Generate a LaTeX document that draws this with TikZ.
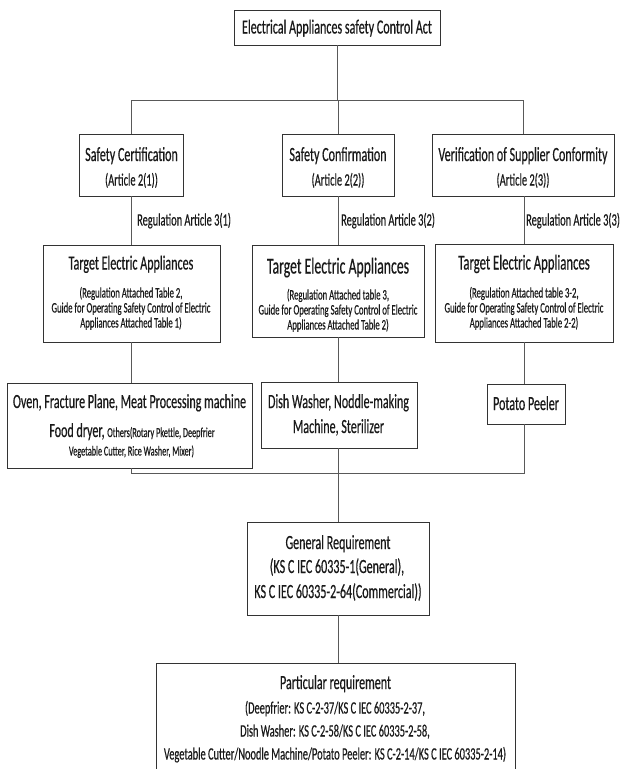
\documentclass[tikz,border=0pt]{standalone}
\usepackage{fontspec}
\setmainfont[FakeStretch=0.6, FakeBold=0.4]{Carlito}
\newcommand\szT{\fontsize{20.1}{23}\selectfont}
\newcommand\szM{\fontsize{17.3}{20}\selectfont}
\newcommand\szS{\fontsize{14.5}{17}\selectfont}
\newcommand\szX{\fontsize{13.7}{16}\selectfont}
\begin{document}
\begin{tikzpicture}[x=1pt,y=-1pt,
  box/.style={draw=black!80, line width=0.9pt, fill=white, inner sep=0pt},
  ln/.style={draw=black!65, line width=0.8pt},
  txt/.style={inner sep=0pt, anchor=base, text=black!90},
  lbl/.style={inner sep=0pt, anchor=base west, text=black!90}]
\useasboundingbox[fill=white] (0,0) rectangle (619,769);

% ---- boxes ----
\node[box, minimum width=206pt, minimum height=35pt] (top)   at (337,27.5) {};
\node[box, minimum width=104pt, minimum height=62pt] (sc)    at (131.5,165) {};
\node[box, minimum width=112pt, minimum height=62pt] (sconf) at (338,165) {};
\node[box, minimum width=182pt, minimum height=62pt] (vsc)   at (523,165) {};
\node[box, minimum width=177pt, minimum height=97pt] (t1)    at (131.5,293.5) {};
\node[box, minimum width=172pt, minimum height=92pt] (t2)    at (338,291) {};
\node[box, minimum width=178pt, minimum height=98pt] (t3)    at (524,293) {};
\node[box, minimum width=245pt, minimum height=85pt] (a)     at (129.5,425.5) {};
\node[box, minimum width=156pt, minimum height=66pt] (d)     at (339,415) {};
\node[box, minimum width=78pt,  minimum height=40pt] (p)     at (526,404) {};
\node[box, minimum width=182pt, minimum height=93pt] (g)     at (338,568.5) {};
\node[box, minimum width=359pt, minimum height=140pt] (pr)   at (335.5,733) {};

% ---- connectors ----
\coordinate (hub) at (337,100);
\coordinate (bus) at (338,473);
\draw[ln] (top.south) -- (top.south |- hub);
\draw[ln] (sc.north |- hub) -- (vsc.north |- hub);
\draw[ln] (sc.north |- hub) -- (sc.north);
\draw[ln] (sconf.north |- hub) -- (sconf.north);
\draw[ln] (vsc.north |- hub) -- (vsc.north);
\draw[ln] (sc.south) -- (sc.south |- t1.north);
\draw[ln] (sconf.south) -- (sconf.south |- t2.north);
\draw[ln] (t3.north |- vsc.south) -- (t3.north);
\draw[ln] (t1.south) -- (t1.south |- a.north);
\draw[ln] (t2.south) -- (t2.south |- d.north);
\draw[ln] (t3.south) -- (t3.south |- p.north);
\draw[ln] (t1.south |- a.south) -- (t1.south |- bus) -- (t3.south |- bus) -- (t3.south |- p.south);
\draw[ln] (g.north |- d.south) -- (g.north);
\draw[ln] (g.south) -- (g.south |- pr.north);

% ---- texts ----
\node[txt, font=\szT] (top-l1) at (337,33.5) {Electrical Appliances safety Control Act};

\node[txt, font=\szT] (sc-l1) at (131.5,161) {Safety Certification};
\node[txt, font=\szM] (sc-l2) at (131.5,185.5) {(Article 2(1))};
\node[txt, font=\szT] (sconf-l1) at (338,161) {Safety Confirmation};
\node[txt, font=\szM] (sconf-l2) at (338,185.5) {(Article 2(2))};
\node[txt, font=\szT] (vsc-l1) at (523,161) {Verification of Supplier Conformity};
\node[txt, font=\szM] (vsc-l2) at (523,185.5) {(Article 2(3))};

\node[lbl, font=\szM] (r1) at (137,225.5) {Regulation Article 3(1)};
\node[lbl, font=\szM] (r2) at (341,225.5) {Regulation Article 3(2)};
\node[lbl, font=\szM] (r3) at (526,225.5) {Regulation Article 3(3)};

\node[txt, font=\szT] (t1-l1) at (131,269.5) {Target Electric Appliances};
\node[txt, font=\szS] (t1-l2) at (131,297.5) {(Regulation Attached Table 2,};
\node[txt, font=\szS] (t1-l3) at (131,312.5) {Guide for Operating Safety Control of Electric};
\node[txt, font=\szS] (t1-l4) at (131,327.5) {Appliances Attached Table 1)};

\node[txt, font=\fontsize{22.9}{26}\selectfont] (t2-l1) at (338,273.5) {Target Electric Appliances};
\node[txt, font=\szS] (t2-l2) at (338,299.5) {(Regulation Attached table 3,};
\node[txt, font=\szS] (t2-l3) at (338,314.5) {Guide for Operating Safety Control of Electric};
\node[txt, font=\szS] (t2-l4) at (338,329.5) {Appliances Attached Table 2)};

\node[txt, font=\fontsize{21.2}{24}\selectfont] (t3-l1) at (524,269.5) {Target Electric Appliances};
\node[txt, font=\szS] (t3-l2) at (524,297.5) {(Regulation Attached table 3-2,};
\node[txt, font=\szS] (t3-l3) at (524,312.5) {Guide for Operating Safety Control of Electric};
\node[txt, font=\szS] (t3-l4) at (524,327.5) {Appliances Attached Table 2-2)};

\node[txt, font=\szT] (a-l1) at (129.5,408) {Oven, Fracture Plane, Meat Processing machine};
\node[txt, font=\szT] (a-l2) at (132,437) {Food dryer, {\szX Others(Rotary Pkettle, Deepfrier}};
\node[txt, font=\szX] (a-l3) at (131.5,455.5) {Vegetable Cutter, Rice Washer, Mixer)};

\node[txt, font=\szT] (d-l1) at (338.5,408) {Dish Washer, Noddle-making};
\node[txt, font=\szT] (d-l2) at (338.5,433) {Machine, Sterilizer};

\node[txt, font=\szT] (p-l1) at (526,410) {Potato Peeler};

\node[txt, font=\szT] (g-l1) at (338,549) {General Requirement};
\node[txt, font=\szT] (g-l2) at (337,573) {(KS C IEC 60335-1(General),};
\node[txt, font=\szT] (g-l3) at (338,598) {KS C IEC 60335-2-64(Commercial))};

\node[txt, font=\szT] (pr-l1) at (335.5,689) {Particular requirement};
\node[txt, font=\szM] (pr-l2) at (335,713.5) {(Deepfrier: KS C-2-37/KS C IEC 60335-2-37,};
\node[txt, font=\szM] (pr-l3) at (335,736.5) {Dish Washer: KS C-2-58/KS C IEC 60335-2-58,};
\node[txt, font=\szM] (pr-l4) at (335,759.5) {Vegetable Cutter/Noodle Machine/Potato Peeler: KS C-2-14/KS C IEC 60335-2-14)};
\end{tikzpicture}
\end{document}
